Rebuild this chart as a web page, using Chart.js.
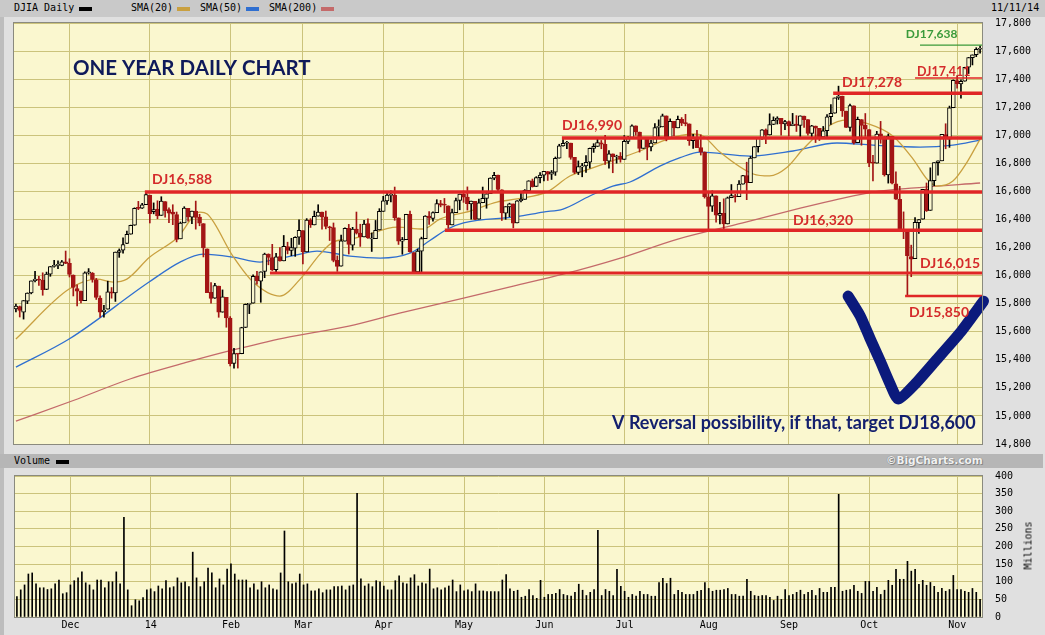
<!DOCTYPE html>
<html>
<head>
<meta charset="utf-8">
<script src="https://cdn.jsdelivr.net/npm/chart.js@4.4.0/dist/chart.umd.min.js"></script>
<style>
  body { margin: 0; width: 1045px; height: 635px; overflow: hidden; position: relative; background: #e0e0e0; font-family: "DejaVu Sans Mono", monospace; }
  .barra { position: absolute; left: 0; font-size: 10px; color: #000; }
  .barra span { position: absolute; top: 2px; white-space: nowrap; }
  .barra i { position: absolute; top: 7px; width: 13px; height: 4px; }
  #cab { top: 0; width: 1045px; height: 17px; background: #c9c9c9; }
  #cabVol { top: 454px; width: 1043px; height: 14px; background: #b6b6b6; }
  #cabVol span { top: 1px; }
  #cabVol i { top: 6px; }
  #borda { position: absolute; left: 0; top: 17px; width: 4px; height: 618px; background: #bdbdbd; }
  canvas { position: absolute; left: 0; }
  #grafico { top: 0; }
  #volume { top: 457px; }
  #milhoes { position: absolute; left: 996px; top: 540px; width: 64px; text-align: center; font-size: 10px; transform: rotate(-90deg); }
  #marca { left: 886px; top: 0px !important; font-family: "DejaVu Sans", sans-serif; font-weight: bold; font-size: 10.5px; color: #f2f2f2; text-shadow: 0 0 1px #6a6a6a, 1px 1px 0 #8a8a8a; }
</style>
</head>
<body>
<div id="cab" class="barra">
  <span style="left:14px">DJIA Daily</span><i style="left:79px;background:#000"></i>
  <span style="left:131px">SMA(20)</span><i style="left:177px;background:#c9a040"></i>
  <span style="left:200px">SMA(50)</span><i style="left:246px;background:#2f6fd0"></i>
  <span style="left:269px">SMA(200)</span><i style="left:321px;background:#c46a6a"></i>
  <span style="left:991px">11/11/14</span>
</div>
<div id="borda"></div>
<div id="cabVol" class="barra">
  <span style="left:14px">Volume</span><i style="left:56px;background:#000"></i>
  <span id="marca">©BigCharts.com</span>
</div>
<canvas id="grafico" width="1045" height="472"></canvas>
<canvas id="volume" width="1045" height="179"></canvas>
<div id="milhoes">Millions</div>

<script>
// Eixo X: inicio de cada mes (indice do pregao) e rotulos
const inicioMes = [14, 35, 56, 75, 96, 117, 138, 159, 181, 202, 223, 246]
const rotuloMes = ["Dec", "14", "Feb", "Mar", "Apr", "May", "Jun", "Jul", "Aug", "Sep", "Oct", "Nov"]

// DJIA diario, 11/11/2013 a 11/11/2014
const aberturas = [
  15762,15780,15740,15817,15877,15963,15975,15968,15902,16010,16066,16073,16073,16098,
  16087,16004,15908,15889,15822,16020,16018,15970,15840,15743,15761,15884,15876,16165,16181,16230,16295,16360,16485,16480,16505,
  16573,16456,16474,16429,16528,16471,16453,16434,16262,16376,16479,16416,16460,16417,16370,16190,15880,15840,15925,15739,15845,
  15697,15375,15443,15443,15630,15794,15804,15994,15960,16029,16154,16129,16043,16136,16105,16207,16180,16196,16273,
  16321,16169,16395,16361,16424,16452,16419,16348,16342,16109,16067,16246,16336,16216,16332,16303,16276,16370,16261,16264,16325,
  16458,16533,16572,16574,16411,16245,16256,16437,16164,16027,16174,16264,16424,16408,16449,16514,16503,16497,16362,16448,16535,
  16580,16560,16511,16530,16403,16519,16550,16584,16695,16716,16612,16445,16489,16511,16375,16534,16543,16606,16676,16635,16698,
  16716,16742,16722,16737,16837,16924,16943,16944,16842,16736,16775,16781,16808,16906,16920,16946,16936,16815,16867,16845,16851,
  16828,16957,16979,17067,17023,16906,16984,16917,16946,17056,17060,17138,16980,17099,17053,17114,17088,17081,16961,16983,16913,16881,
  16561,16494,16568,16428,16443,16368,16555,16568,16562,16652,16713,16663,16839,16918,16978,17039,17002,17077,17107,17121,17081,
  17098,17068,17079,17070,17137,17111,17014,17066,17049,16988,17032,17133,17157,17267,17279,17172,17056,17210,16947,17112,17071,
  17041,16808,16802,17010,16991,16718,16992,16654,16543,16326,16313,16135,16120,16378,16402,16614,16465,16677,16804,16818,17005,16973,17196,
  17390,17366,17385,17485,17553,17574,17613
]
const maximas = [
  15797,15783,15822,15877,15962,16030,15995,16020,16025,16065,16109,16105,16108,16175,
  16120,16005,15935,15890,16027,16050,16022,15980,15855,15788,15960,15915,16168,16190,16270,16318,16360,16483,16529,16515,16588,
  16573,16518,16533,16562,16528,16483,16505,16453,16382,16491,16479,16459,16531,16437,16370,16190,15950,15945,15925,15898,15845,
  15708,15481,15443,15632,15798,15803,16005,16031,16027,16160,16155,16223,16158,16199,16286,16238,16266,16277,16398,
  16321,16406,16406,16460,16505,16453,16460,16352,16375,16140,16288,16340,16365,16344,16453,16366,16394,16405,16304,16393,16477,
  16565,16588,16604,16631,16411,16272,16437,16460,16164,16189,16274,16427,16456,16454,16541,16536,16550,16497,16474,16552,16581,
  16603,16632,16531,16530,16546,16631,16585,16697,16736,16716,16612,16491,16516,16511,16535,16586,16613,16676,16688,16705,16735,
  16743,16742,16749,16845,16936,16970,16956,16944,16842,16817,16800,16855,16909,16940,16978,16963,17000,16891,16867,16858,16877,
  16998,16992,17074,17067,17023,16985,16984,16966,17084,17110,17151,17138,17117,17099,17137,17126,17149,17081,17006,17036,17003,16881,
  16592,16604,16568,16522,16547,16560,16649,16580,16677,16714,16808,16849,16919,16980,17040,17045,17153,17131,17132,17121,17107,
  17102,17156,17140,17138,17137,17111,17071,17066,17049,17063,17148,17218,17266,17350,17279,17172,17223,17210,17130,17112,17155,
  17041,16857,17028,17099,16991,17009,16992,16740,16636,16454,16313,16217,16413,16400,16615,16660,16768,16805,16818,17006,17082,17208,17395,
  17426,17395,17485,17555,17573,17624,17638
]
const minimas = [
  15741,15705,15690,15800,15870,15955,15930,15860,15900,15995,16060,16050,16070,16085,
  15990,15855,15784,15805,15822,16010,15953,15830,15703,15704,15761,15839,15816,16130,16160,16228,16295,16358,16470,16478,16505,
  16375,16440,16405,16429,16416,16378,16363,16240,16262,16376,16388,16370,16331,16355,16133,15879,15804,15838,15703,15739,15632,
  15356,15340,15341,15443,15630,15729,15804,15939,15810,15985,16077,16036,16016,16103,16105,16155,16142,16137,16223,
  16084,16169,16343,16361,16424,16330,16333,16250,16098,16030,16067,16246,16154,16182,16296,16208,16276,16265,16172,16264,16325,
  16458,16508,16525,16394,16222,16152,16256,16167,16015,16027,16016,16264,16364,16388,16449,16490,16448,16340,16362,16448,16469,
  16522,16467,16402,16398,16403,16519,16480,16584,16683,16603,16393,16401,16420,16340,16375,16525,16543,16606,16631,16635,16660,
  16675,16678,16685,16714,16837,16923,16904,16829,16726,16720,16704,16736,16766,16878,16920,16904,16793,16766,16733,16801,16808,
  16828,16941,16979,17000,16880,16906,16825,16888,16946,16990,17060,16960,16980,16995,17053,17069,17067,16928,16906,16912,16859,16552,
  16333,16457,16380,16369,16333,16368,16555,16524,16562,16652,16541,16663,16839,16880,16970,16940,17002,17076,17080,17000,17040,
  16995,17068,17027,16977,17056,17000,16975,16948,16963,16980,16988,17078,17157,17255,17134,17055,17029,16937,16947,16929,16992,
  16776,16674,16802,16943,16709,16659,16654,16542,16321,16263,15855,15992,16120,16300,16402,16457,16465,16641,16715,16818,16904,16914,17196,
  17335,17264,17385,17440,17501,17560,17585
]
const fechamentos = [
  15783,15751,15822,15876,15962,15976,15968,15900,16010,16065,16073,16073,16098,16086,
  16008,15915,15889,15821,16020,16025,15973,15844,15739,15755,15885,15875,16168,16179,16221,16294,16358,16479,16479,16505,16577,
  16441,16470,16425,16531,16463,16445,16437,16257,16374,16482,16418,16459,16414,16374,16198,15879,15838,15929,15739,15849,15699,
  15373,15445,15441,15629,15795,15802,15994,15964,16027,16154,16130,16041,16134,16104,16208,16180,16199,16273,16322,
  16168,16396,16361,16422,16453,16419,16351,16341,16109,16066,16247,16337,16223,16332,16303,16276,16368,16268,16264,16323,16458,
  16533,16573,16573,16413,16246,16256,16437,16170,16027,16174,16263,16425,16409,16449,16514,16502,16501,16361,16449,16535,16581,
  16558,16513,16531,16401,16518,16551,16583,16695,16715,16614,16447,16491,16512,16374,16533,16543,16607,16676,16633,16698,16717,
  16743,16723,16738,16836,16924,16943,16945,16843,16735,16776,16782,16808,16907,16921,16947,16937,16818,16868,16847,16851,16827,
  16957,16976,17068,17024,16906,16985,16915,16944,17055,17060,17138,16977,17100,17052,17114,17087,17083,16961,16982,16912,16881,16563,
  16493,16569,16430,16443,16368,16554,16570,16561,16652,16713,16663,16838,16919,16979,17039,17001,17076,17107,17122,17080,17098,
  17067,17079,17070,17138,17112,17014,17068,17050,16988,17032,17132,17157,17266,17280,17173,17056,17211,16946,17113,17071,17043,
  16805,16801,17009,16992,16720,16994,16659,16544,16321,16316,16142,16117,16380,16400,16615,16462,16677,16805,16818,17006,16975,17196,17391,
  17367,17384,17484,17554,17573,17613,17615
]
// Volume em milhoes
const volumes = [
  58,77,91,122,125,94,83,83,78,80,94,105,66,69,
  91,103,111,128,97,91,77,105,105,83,100,100,128,94,283,77,32,49,46,55,77,
  80,72,88,80,103,83,86,111,97,100,86,184,111,86,100,139,125,83,108,91,136,
  151,122,105,105,105,83,94,77,100,83,91,80,77,125,244,100,94,97,122,
  91,94,74,74,80,69,77,77,86,86,88,77,88,91,351,108,88,94,86,103,100,
  88,77,77,103,117,97,94,111,120,88,97,94,136,80,83,77,83,88,105,72,91,
  74,77,72,94,74,74,72,72,72,72,105,120,80,73,76,56,59,78,61,53,104,
  56,64,64,67,78,64,61,59,70,93,76,61,70,78,246,61,78,73,61,135,87,
  73,56,64,59,73,64,64,59,59,98,110,95,110,64,76,70,64,64,64,73,76,98,
  81,73,76,76,78,81,64,64,59,59,107,73,61,59,61,61,56,47,59,50,78,
  61,64,70,76,64,70,76,61,81,70,70,84,84,348,73,76,78,90,73,67,101,
  101,73,84,64,76,104,90,135,107,107,158,130,135,93,104,90,98,87,70,81,73,78,118,
  78,78,73,70,81,70,50
]

// Medias moveis (indice do pregao, valor)
const sma20Idx = [0,13.9,21.2,25.4,29,35,42.1,48.1,50,56.7,62,69,74.3,79.5,82.9,87.3,90.7,99.6,106.4,110.8,118.7,125.7,131,138.8,144.8,150,157.1,163.1,169.1,176.9,179.6,184,192.7,197,201.5,205.7,212,217.2,222.4,229.2,234.5,238.1,240.7,244.9,248.6,252]
const sma20Val = [15548,15904,15975,15954,15975,16132,16268,16453,16439,16139,15954,15854,15975,16153,16239,16260,16282,16346,16332,16403,16460,16524,16546,16596,16710,16760,16830,16888,16960,17009,16995,16880,16724,16710,16770,16900,17060,17110,17085,16995,16830,16688,16638,16674,16809,16973]
const sma50Idx = [0,13.9,34.8,42.9,48.9,56.7,63.8,68.2,74.3,78.7,87.3,95.2,103,108.2,112.7,117,131,137.8,143,150,156,160.5,168.3,173.6,178.8,191.9,203.1,214.6,224,236.3,244.9,252]
const sma50Val = [15348,15548,15954,16096,16153,16132,16096,16118,16153,16175,16139,16125,16160,16250,16330,16375,16420,16453,16474,16567,16638,16667,16780,16840,16880,16852,16888,16945,16930,16916,16930,16966]
const sma200Idx = [0,15,30,45,56,70,87,100,117,130,143,158,173,190,205,215,224,235,252]
const sma200Val = [14963,15110,15265,15385,15465,15555,15640,15730,15840,15925,16010,16125,16260,16375,16480,16545,16595,16625,16660]

// Linhas de suporte/resistencia desenhadas a mao
const niveis = [
  { y: 16595, de: 33.7, cor: "#e02626", esp: 3.5 },
  { y: 16980, de: 142.7, cor: "#e02626", esp: 3.5 },
  { y: 16324, de: 112.1, cor: "#e02626", esp: 3.5 },
  { y: 16018, de: 66.4, cor: "#e02626", esp: 3 },
  { y: 17300, de: 213.6, cor: "#e02626", esp: 3.5 },
  { y: 17408, de: 235, cor: "#e02626", esp: 1.5 },
  { y: 17643, de: 236.3, cor: "#3a9a3a", esp: 1.2 },
  { y: 15854, de: 232.4, cor: "#e02626", esp: 2.5 }
]
// Traço do "V"
const vX = [217.5, 220.7, 223.3, 225.9, 228.5, 230.6, 235, 240.3, 246.9, 252.9]
const vY = [15854, 15711, 15548, 15391, 15227, 15120, 15227, 15391, 15597, 15818]

const vermelho = "#d42b2b"
const notas = [
  { t: "ONE YEAR DAILY CHART", x: 14.9, y: 17479, font: "bold 20.5px Lato", cor: "#0f1a5a" },
  { t: "DJ16,588", x: 35.6, y: 16688, font: "bold 14px Lato", cor: vermelho },
  { t: "DJ16,990", x: 142.7, y: 17073, font: "bold 14px Lato", cor: vermelho },
  { t: "DJ16,320", x: 203.1, y: 16396, font: "bold 14px Lato", cor: vermelho },
  { t: "DJ16,015", x: 236.3, y: 16083, font: "bold 14px Lato", cor: vermelho },
  { t: "DJ17,278", x: 215.9, y: 17379, font: "bold 14px Lato", cor: vermelho },
  { t: "DJ17,411", x: 235.5, y: 17451, font: "bold 12.5px Lato", cor: vermelho },
  { t: "DJ17,638", x: 232.6, y: 17722, font: "bold 12px Lato", cor: "#3a9a3a" },
  { t: "DJ15,850", x: 233.4, y: 15740, font: "bold 14px Lato", cor: vermelho },
  { t: "V Reversal possibility, if that, target DJ18,600", x: 155.8, y: 14949, font: "bold 18px Lato", cor: "#14206e" }
]

Chart.defaults.animation = false
Chart.defaults.font.family = "DejaVu Sans Mono"

const corGrade = "#cbc37c"
const fundoPlot = "#faf7cf"
const corQueda = "#a31515"
const fonteEixo = { family: "DejaVu Sans Mono", size: 10 }

const fundo = {
  id: "fundo",
  beforeDraw(chart) {
    const { ctx, chartArea: a } = chart
    ctx.save()
    ctx.fillStyle = fundoPlot
    ctx.fillRect(a.left, a.top, a.right - a.left, a.bottom - a.top)
    ctx.restore()
  },
  afterDraw(chart) {
    const { ctx, chartArea: a } = chart
    ctx.save()
    ctx.strokeStyle = "#8a8a7e"
    ctx.lineWidth = 1
    ctx.strokeRect(a.left - 0.5, a.top - 0.5, a.right - a.left + 1, a.bottom - a.top + 1)
    ctx.restore()
  }
}

const textos = {
  id: "textos",
  afterDatasetsDraw(chart) {
    const { ctx, scales: { x, y } } = chart
    ctx.save()
    ctx.textBaseline = "middle"
    ctx.textAlign = "left"
    notas.forEach(n => {
      ctx.font = n.font
      ctx.fillStyle = n.cor
      ctx.fillText(n.t, x.getPixelForValue(n.x), y.getPixelForValue(n.y))
    })
    ctx.restore()
  }
}

const caiu = i => fechamentos[i] < aberturas[i]

function eixoX(comRotulos) {
  return {
    type: "linear",
    min: -0.5,
    max: 252.5,
    offset: false,
    afterBuildTicks: s => { s.ticks = inicioMes.map(v => ({ value: v })) },
    afterFit: s => { s.height = comRotulos ? 18 : 0 },
    ticks: {
      display: comRotulos,
      autoSkip: false,
      maxRotation: 0,
      padding: 2,
      color: "#000",
      font: fonteEixo,
      callback: v => rotuloMes[inicioMes.indexOf(v)]
    },
    grid: { color: corGrade, drawTicks: false, offset: false },
    border: { display: false }
  }
}

// Obs.: o padding dos ticks (13) tambem reserva ~19px acima/abaixo da area
function eixoY(min, max, passo, formato) {
  return {
    position: "right",
    min,
    max,
    afterFit: s => { s.width = 63 },
    ticks: { stepSize: passo, padding: 13, crossAlign: "near", color: "#000", font: fonteEixo, callback: formato },
    grid: { color: corGrade, drawTicks: false },
    border: { display: false }
  }
}

const linhaMedia = (xs, ys, cor, ordem) => ({
  type: "line",
  data: xs.map((x, i) => ({ x, y: ys[i] })),
  borderColor: cor,
  borderWidth: 1.3,
  pointRadius: 0,
  cubicInterpolationMode: "monotone",
  order: ordem
})

const conjuntos = [
  linhaMedia(sma200Idx, sma200Val, "#c46a6a", 9),
  linhaMedia(sma50Idx, sma50Val, "#2f6fd0", 8),
  linhaMedia(sma20Idx, sma20Val, "#c9a040", 7),
  {
    type: "bar",
    data: minimas.map((l, i) => ({ x: i, y: [l, maximas[i]] })),
    backgroundColor: minimas.map((l, i) => caiu(i) ? corQueda : "#000"),
    barThickness: 1,
    grouped: false,
    order: 6
  },
  {
    type: "bar",
    data: aberturas.map((o, i) => ({ x: i, y: [o, fechamentos[i]] })),
    backgroundColor: aberturas.map((o, i) => caiu(i) ? corQueda : fundoPlot),
    borderColor: aberturas.map((o, i) => caiu(i) ? corQueda : "#000"),
    borderWidth: 1,
    borderSkipped: false,
    barThickness: 4,
    minBarLength: 1,
    grouped: false,
    order: 5
  },
  ...niveis.map(n => ({
    type: "line",
    data: [{ x: n.de, y: n.y }, { x: 252.5, y: n.y }],
    borderColor: n.cor,
    borderWidth: n.esp,
    pointRadius: 0,
    order: 1
  })),
  {
    type: "line",
    data: vX.map((x, i) => ({ x, y: vY[i] })),
    borderColor: "#0b1a7c",
    borderWidth: 11,
    borderCapStyle: "round",
    borderJoinStyle: "round",
    pointRadius: 0,
    tension: 0.2,
    clip: false,
    order: 0
  }
]

new Chart(document.getElementById("grafico"), {
  type: "line",
  data: { datasets: conjuntos },
  options: {
    responsive: false,
    layout: { autoPadding: false, padding: { left: 14, top: 23, bottom: 28, right: 0 } },
    plugins: { legend: { display: false }, tooltip: { enabled: false } },
    scales: {
      x: eixoX(false),
      y: eixoY(14800, 17800, 200, v => v.toLocaleString("en-US"))
    }
  },
  plugins: [fundo, textos]
})

new Chart(document.getElementById("volume"), {
  type: "line",
  data: {
    datasets: [{
      type: "bar",
      data: volumes.map((v, i) => ({ x: i, y: v })),
      backgroundColor: "#000",
      barThickness: 1,
      grouped: false
    }]
  },
  options: {
    responsive: false,
    layout: { autoPadding: false, padding: { left: 15, top: 19, bottom: 0, right: 0 } },
    plugins: { legend: { display: false }, tooltip: { enabled: false } },
    scales: {
      x: eixoX(true),
      y: eixoY(0, 400, 50, v => v)
    }
  },
  plugins: [fundo]
})
</script>
</body>
</html>
